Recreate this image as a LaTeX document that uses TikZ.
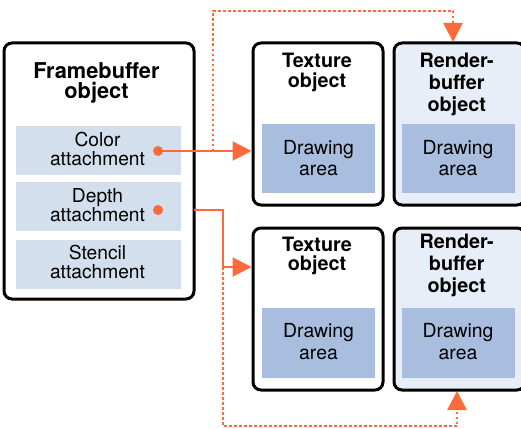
\documentclass[tikz,border=0pt]{standalone}
\usepackage{fontspec}
\setmainfont{TeX Gyre Heros}
\usetikzlibrary{arrows.meta}
\definecolor{orng}{HTML}{FF6A3D}
\definecolor{attfill}{HTML}{D3DFED}
\definecolor{areafill}{HTML}{A9BDDE}
\definecolor{rbfill}{HTML}{E7EEF7}
\begin{document}
\begin{tikzpicture}[x=1pt,y=-1pt,
  box/.style={draw=black, line width=3pt, rounded corners=8pt, inner sep=0pt, outer sep=0pt},
  panel/.style={inner sep=0pt, outer sep=0pt},
  lbl/.style={align=center, inner sep=0pt, anchor=base},
  ttl/.style={lbl, font=\fontsize{19.8}{19.6}\selectfont\bfseries},
  rbttl/.style={lbl, font=\fontsize{19.8}{22}\selectfont\bfseries},
  att/.style={lbl, font=\fontsize{19.2}{18.5}\selectfont},
  area/.style={lbl, font=\fontsize{19.4}{21.7}\selectfont},
  dotnode/.style={circle, fill=orng, minimum size=10pt, inner sep=0pt},
  conn/.style={draw=orng, line width=2pt, -{Triangle[length=19pt,width=19pt]}},
  dotconn/.style={draw=orng, line width=2.5pt, dash pattern=on 2.5pt off 2.5pt, -{Triangle[length=19pt,width=19pt]}},
]
\useasboundingbox (0,0) rectangle (521,428);

% Framebuffer object
\node[box, minimum width=190pt, minimum height=256pt] (fb) at (99,171) {};
\node[lbl, font=\fontsize{21.8}{20}\selectfont\bfseries] (fbl) at (96.5,98.3) {Framebuffer\\object};
\node[panel, fill=attfill, minimum width=165pt, minimum height=49pt] (color) at (98.5,150.5) {};
\node[panel, fill=attfill, minimum width=165pt, minimum height=49pt] (depth) at (98.5,206.5) {};
\node[panel, fill=attfill, minimum width=165pt, minimum height=49pt] (stencil) at (98.5,264.5) {};
\node[att] (colorl) at (97.5,165) {Color\\attachment};
\node[att] (depthl) at (97.5,221) {Depth\\attachment};
\node[att] (stencill) at (97.5,278.3) {Stencil\\attachment};

% Top row
\node[box, minimum width=130pt, minimum height=162pt] (tex1) at (318,124) {};
\node[ttl] (tex1l) at (317,87.3) {Texture\\object};
\node[panel, fill=areafill, minimum width=113pt, minimum height=69pt] (tex1a) at (318.5,158.5) {};
\node[area] (tex1al) at (318.5,175.7) {Drawing\\area};
\node[box, fill=rbfill, minimum width=131pt, minimum height=162pt] (rb1) at (459.5,124) {};
\node[rbttl] (rb1l) at (456.7,111) {Render-\\buffer\\object};
\node[panel, fill=areafill, minimum width=113pt, minimum height=69pt] (rb1a) at (458.5,158.5) {};
\node[area] (rb1al) at (458,175.7) {Drawing\\area};

% Bottom row
\node[box, minimum width=130pt, minimum height=162pt] (tex2) at (318,309) {};
\node[ttl] (tex2l) at (317,270.7) {Texture\\object};
\node[panel, fill=areafill, minimum width=113pt, minimum height=70pt] (tex2a) at (318.5,343) {};
\node[area] (tex2al) at (318.5,359.3) {Drawing\\area};
\node[box, fill=rbfill, minimum width=131pt, minimum height=162pt] (rb2) at (459.5,309) {};
\node[rbttl] (rb2l) at (456.7,292.7) {Render-\\buffer\\object};
\node[panel, fill=areafill, minimum width=113pt, minimum height=70pt] (rb2a) at (458.5,343) {};
\node[area] (rb2al) at (458,359.3) {Drawing\\area};

% connector helper coordinates
\coordinate (cbranch) at (213,151);
\coordinate (ctop) at (453,11);
\coordinate (rb1in) at (453,42);
\coordinate (dj) at (223,267);
\coordinate (cbot) at (457,426);
\coordinate (rb2in) at (457,391);

% dotted connectors
\draw[dotconn] (cbranch) |- (ctop) -- (rb1in);
\draw[dotconn] (dj) |- (cbot) -- (rb2in);

% solid connectors
\node[dotnode] (cdot) at (158,151) {};
\node[dotnode] (ddot) at (158,210) {};
\draw[conn] (cdot.center) -- ([xshift=-1.5pt]tex1.west |- cdot.center);
\draw[conn] (fb.east |- ddot.center) -| (dj) -- ([xshift=-1.5pt]tex2.west |- dj);
\end{tikzpicture}
\end{document}
